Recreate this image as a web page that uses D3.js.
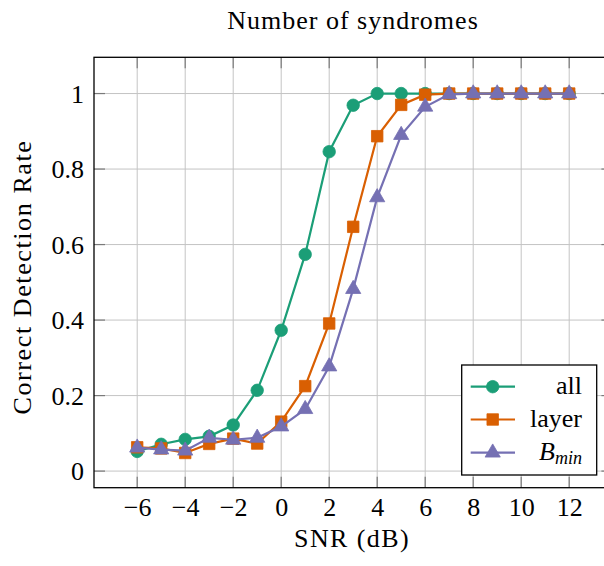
<!DOCTYPE html>
<html>
<head>
<meta charset="utf-8">
<script src="https://cdn.jsdelivr.net/npm/d3@7"></script>
<style>
  html, body { margin: 0; padding: 0; background: #fff; }
  svg { display: block; }
  text { font-family: "Liberation Serif", "Times New Roman", serif; fill: #000; }
</style>
</head>
<body>
<svg id="chart" width="604" height="566"></svg>
<script>
// SNR sweep (dB) and correct detection rate per syndrome set
const snr = [-6, -5, -4, -3, -2, -1, 0, 1, 2, 3, 4, 5, 6, 7, 8, 9, 10, 11, 12];
const rateAll = [0.052, 0.071, 0.084, 0.092, 0.122, 0.214, 0.373, 0.574, 0.846, 0.969, 1.0, 1.0, 1.0, 1.0, 1.0, 1.0, 1.0, 1.0, 1.0];
const rateLayer = [0.063, 0.060, 0.048, 0.072, 0.086, 0.073, 0.131, 0.225, 0.391, 0.647, 0.887, 0.970, 0.997, 1.0, 1.0, 1.0, 1.0, 1.0, 1.0];
const rateBmin = [0.062, 0.057, 0.054, 0.088, 0.083, 0.088, 0.118, 0.164, 0.277, 0.482, 0.725, 0.890, 0.965, 0.998, 1.0, 1.0, 1.0, 1.0, 1.0];

const xTicks = [-6, -4, -2, 0, 2, 4, 6, 8, 10, 12];
const yTicks = [0, 0.2, 0.4, 0.6, 0.8, 1];

const seriesNames = ["all", "layer", "B"];
const seriesColors = ["#1b9e77", "#d95f02", "#7570b3"];
const seriesMarks = [d3.symbolCircle, d3.symbolSquare, d3.symbolTriangle];

const series = [rateAll, rateLayer, rateBmin].map((vals, i) => ({
  name: seriesNames[i],
  color: seriesColors[i],
  mark: seriesMarks[i],
  points: snr.map((s, j) => ({ x: s, y: vals[j] }))
}));

const svg = d3.select("#chart");

const plotL = 94, plotR = 612.4, plotT = 57.3, plotB = 487.7;
const x = d3.scaleLinear().domain([-7.8, 13.8]).range([plotL, plotR]);
const y = d3.scaleLinear().domain([-0.044, 1.096]).range([plotB, plotT]);

const fontSize = 26;
const tickLen = 11;

// grid
const grid = svg.append("g");
grid.selectAll("line.gx").data(xTicks).join("line")
  .attr("x1", d => x(d)).attr("x2", d => x(d))
  .attr("y1", plotT).attr("y2", plotB)
  .attr("stroke", "#c4c4c4").attr("stroke-width", 1);
grid.selectAll("line.gy").data(yTicks).join("line")
  .attr("y1", d => y(d)).attr("y2", d => y(d))
  .attr("x1", plotL).attr("x2", plotR)
  .attr("stroke", "#c4c4c4").attr("stroke-width", 1);

// inward tick marks on all four sides
const ticks = svg.append("g").attr("stroke", "#7a7a7a").attr("stroke-width", 1.2);
xTicks.forEach(t => {
  ticks.append("line").attr("x1", x(t)).attr("x2", x(t)).attr("y1", plotB).attr("y2", plotB - tickLen);
  ticks.append("line").attr("x1", x(t)).attr("x2", x(t)).attr("y1", plotT).attr("y2", plotT + tickLen);
});
yTicks.forEach(t => {
  ticks.append("line").attr("y1", y(t)).attr("y2", y(t)).attr("x1", plotL).attr("x2", plotL + tickLen);
  ticks.append("line").attr("y1", y(t)).attr("y2", y(t)).attr("x1", plotR).attr("x2", plotR - tickLen);
});

// axis labels via d3 axes
const xAxis = svg.append("g")
  .attr("transform", `translate(0,${plotB})`)
  .call(d3.axisBottom(x).tickValues(xTicks).tickSize(0).tickPadding(0).tickFormat(d3.format("")));
xAxis.select(".domain").remove();
xAxis.selectAll("text")
  .attr("font-size", fontSize)
  .attr("font-family", "Liberation Serif, serif")
  .attr("dy", null)
  .attr("y", 28)
  .attr("fill", "#000");

const yAxis = svg.append("g")
  .attr("transform", `translate(${plotL},0)`)
  .call(d3.axisLeft(y).tickValues(yTicks).tickSize(0).tickPadding(0).tickFormat(d3.format("")));
yAxis.select(".domain").remove();
yAxis.selectAll("text")
  .attr("font-size", fontSize)
  .attr("font-family", "Liberation Serif, serif")
  .attr("dy", null)
  .attr("x", -10)
  .attr("y", 8.5)
  .attr("fill", "#000");

// series lines and markers
const line = d3.line().x(d => x(d.x)).y(d => y(d.y));
const markSize = [122, 132, 100];
series.forEach((s, i) => {
  const g = svg.append("g");
  g.append("path")
    .attr("d", line(s.points))
    .attr("fill", "none")
    .attr("stroke", s.color)
    .attr("stroke-width", 2.2);
  g.selectAll("path.m").data(s.points).join("path")
    .attr("class", "m")
    .attr("transform", d => `translate(${x(d.x)},${y(d.y)})`)
    .attr("d", d3.symbol().type(s.mark).size(markSize[i]))
    .attr("fill", s.color)
    .attr("stroke", s.color)
    .attr("stroke-width", 0.8);
});

// frame
svg.append("rect")
  .attr("x", plotL).attr("y", plotT)
  .attr("width", plotR - plotL).attr("height", plotB - plotT)
  .attr("fill", "none").attr("stroke", "#000").attr("stroke-width", 1.3);

// titles
svg.append("text")
  .attr("x", 353).attr("y", 29)
  .attr("text-anchor", "middle")
  .attr("font-size", fontSize)
  .attr("letter-spacing", 1)
  .text("Number of syndromes");

svg.append("text")
  .attr("x", 352).attr("y", 547)
  .attr("text-anchor", "middle")
  .attr("font-size", fontSize)
  .attr("letter-spacing", 1.4)
  .text("SNR (dB)");

svg.append("text")
  .attr("transform", "translate(31,277) rotate(-90)")
  .attr("text-anchor", "middle")
  .attr("font-size", fontSize)
  .attr("letter-spacing", 1.6)
  .text("Correct Detection Rate");

// legend
const legend = svg.append("g");
legend.append("rect")
  .attr("x", 461.7).attr("y", 365)
  .attr("width", 135).attr("height", 110)
  .attr("fill", "#fff").attr("stroke", "#000").attr("stroke-width", 1.3);
const rowY = [386.7, 419.5, 452.7];
series.forEach((s, i) => {
  const g = legend.append("g").attr("transform", `translate(0,${rowY[i]})`);
  g.append("line").attr("x1", 470.7).attr("x2", 515).attr("y1", 0).attr("y2", 0)
    .attr("stroke", s.color).attr("stroke-width", 2.2);
  g.append("path")
    .attr("transform", "translate(492.7,0)")
    .attr("d", d3.symbol().type(s.mark).size(markSize[i]))
    .attr("fill", s.color)
    .attr("stroke", s.color)
    .attr("stroke-width", 0.8);
  const t = g.append("text")
    .attr("x", 582).attr("y", 7.5)
    .attr("text-anchor", "end")
    .attr("font-size", fontSize);
  if (s.name === "B") {
    t.append("tspan").attr("font-style", "italic").text("B");
    t.append("tspan").attr("font-style", "italic").attr("font-size", 18).attr("dy", 4).text("min");
  } else {
    t.text(s.name);
  }
});
</script>
</body>
</html>
